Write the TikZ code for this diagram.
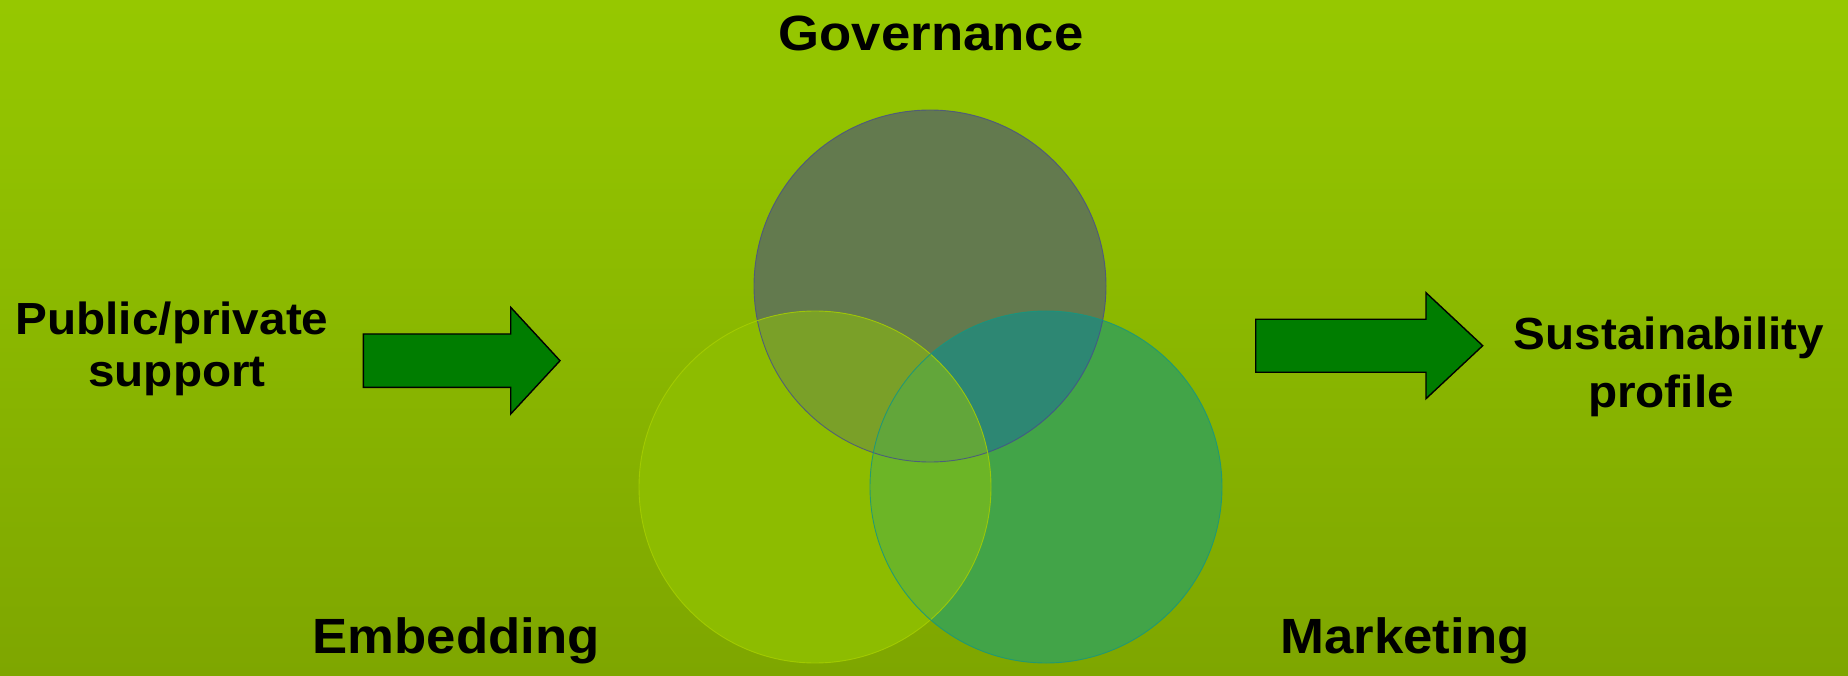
\documentclass[tikz,border=0pt]{standalone}
\usepackage{fontspec}
\setmainfont{Liberation Sans}
\begin{document}
\definecolor{bgTop}{RGB}{150,200,0}
\definecolor{bgBot}{RGB}{126,166,0}
\definecolor{arrowGreen}{RGB}{0,125,0}
\definecolor{govFill}{RGB}{99,122,78}
\definecolor{embFill}{RGB}{141,188,0}
\definecolor{mktFill}{RGB}{66,164,72}
\definecolor{govEmb}{RGB}{122,160,40}
\definecolor{govMkt}{RGB}{45,135,115}
\definecolor{embMkt}{RGB}{108,181,38}
\definecolor{allThree}{RGB}{98,166,58}
\definecolor{govLine}{RGB}{70,78,140}
\definecolor{embLine}{RGB}{168,208,0}
\definecolor{mktLine}{RGB}{20,150,130}
\begin{tikzpicture}[x=1pt,y=-1pt,
  bigLabel/.style={font=\fontsize{49.5}{58}\selectfont\bfseries, xscale=1.065, anchor=base, inner sep=0pt},
  sideLabel/.style={font=\fontsize{45}{52}\selectfont\bfseries, xscale=1.06, anchor=base, inner sep=0pt},
  blockArrow/.style={fill=arrowGreen, draw=black, line width=1.4pt, line join=miter},
  ring/.style={circle, minimum size=352pt, inner sep=0pt}]
  % background
  \shade[top color=bgTop, bottom color=bgBot] (0,0) rectangle (1848,676);
  \useasboundingbox (0,0) rectangle (1848,676);

  % circle centres
  \coordinate (gc) at (930,286);
  \coordinate (lc) at (815,487);
  \coordinate (rc) at (1046,487);
  \def\R{176pt}

  % single-circle fills
  \fill[govFill] (gc) circle[radius=\R];
  \fill[embFill] (lc) circle[radius=\R];
  \fill[mktFill] (rc) circle[radius=\R];
  % pairwise overlaps
  \begin{scope}
    \clip (gc) circle[radius=\R];
    \fill[govEmb] (lc) circle[radius=\R];
    \fill[govMkt] (rc) circle[radius=\R];
  \end{scope}
  \begin{scope}
    \clip (lc) circle[radius=\R];
    \fill[embMkt] (rc) circle[radius=\R];
  \end{scope}
  % triple overlap
  \begin{scope}
    \clip (gc) circle[radius=\R];
    \clip (lc) circle[radius=\R];
    \fill[allThree] (rc) circle[radius=\R];
  \end{scope}

  % circle outlines
  \node[ring, draw=govLine, line width=0.9pt, draw opacity=0.8] (gov) at (gc) {};
  \node[ring, draw=embLine, line width=0.9pt, draw opacity=0.8] (emb) at (lc) {};
  \node[ring, draw=mktLine, line width=0.9pt, draw opacity=0.8] (mkt) at (rc) {};

  % block arrows
  \draw[blockArrow] (363.3,334) -- (510.7,334) -- (510.7,307.3) -- (560,360.7)
    -- (510.7,414) -- (510.7,387.3) -- (363.3,387.3) -- cycle;
  \draw[blockArrow] (1255.7,319.3) -- (1426,319.3) -- (1426,292.7) -- (1482.7,345.7)
    -- (1426,398.7) -- (1426,372.3) -- (1255.7,372.3) -- cycle;

  % labels
  \node[bigLabel] (govText) at (931,50.5) {Governance};
  \node[bigLabel] (embText) at (456,653) {Embedding};
  \node[bigLabel] (mktText) at (1405,653) {Marketing};
  \node[sideLabel] (pubText) at (172,335) {Public/private};
  \node[sideLabel] (supText) at (177,386) {support};
  \node[sideLabel] (susText) at (1669,349) {Sustainability};
  \node[sideLabel] (proText) at (1661,407) {profile};
\end{tikzpicture}
\end{document}
